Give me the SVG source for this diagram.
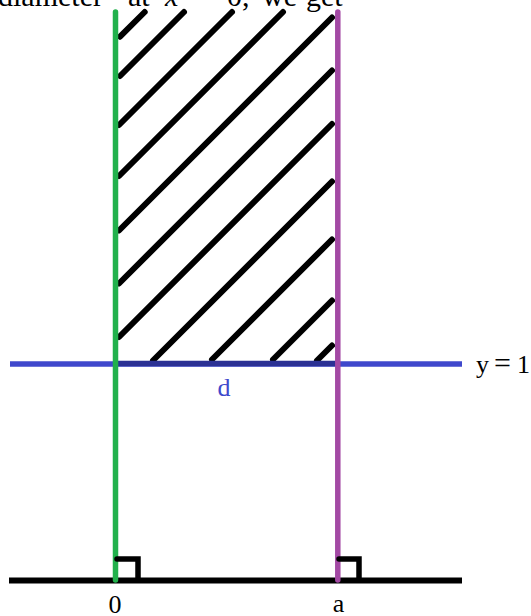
<svg xmlns="http://www.w3.org/2000/svg" width="531" height="616" viewBox="0 0 531 616">
<style>
.hatch{stroke:#000;stroke-width:6;stroke-linecap:round;fill:none}
.lbl{font-family:"Liberation Serif","Times New Roman",serif;font-size:26px}
.top{font-family:"Liberation Serif","Times New Roman",serif;font-size:30px;fill:#000}
.mark{stroke:#000;stroke-width:5.5;fill:none;stroke-linecap:round;stroke-linejoin:miter}
</style>
<rect width="531" height="616" fill="#fff"/>
<text class="top" y="5.5"><tspan x="-2">diameter</tspan><tspan x="128">at</tspan><tspan x="165" font-style="italic">x</tspan><tspan x="188">=</tspan><tspan x="227">0,</tspan><tspan x="262">we</tspan><tspan x="306">get</tspan></text>
<g id="hatching">
<line class="hatch" x1="120" y1="36.7" x2="144.7" y2="12"/>
<line class="hatch" x1="120" y1="76" x2="184" y2="12"/>
<line class="hatch" x1="119" y1="125" x2="232" y2="12"/>
<line class="hatch" x1="119" y1="176" x2="283" y2="12"/>
<line class="hatch" x1="119" y1="230.5" x2="332" y2="17.5"/>
<line class="hatch" x1="119" y1="283.5" x2="332" y2="70.5"/>
<line class="hatch" x1="119" y1="337" x2="332" y2="124"/>
<line class="hatch" x1="153" y1="360.5" x2="332" y2="181.5"/>
<line class="hatch" x1="212" y1="359.5" x2="332" y2="239.5"/>
<line class="hatch" x1="273" y1="359.5" x2="332" y2="300.5"/>
<line class="hatch" x1="317" y1="360.5" x2="332" y2="345.5"/>
</g>
<g id="connectors">
<line id="y1line" x1="10" y1="364" x2="462" y2="364" stroke="#3f48cc" stroke-width="5.5"/>
<line x1="116" y1="363.5" x2="338" y2="363.5" stroke="#2b3194" stroke-width="5.5"/>
<line id="axis" x1="9" y1="580.5" x2="462" y2="580.5" stroke="#000" stroke-width="6"/>
<line id="green" x1="115.5" y1="12" x2="115.5" y2="580" stroke="#22b14c" stroke-width="5.5" stroke-linecap="round"/>
<line id="purple" x1="337.8" y1="12" x2="337.8" y2="580" stroke="#a349a4" stroke-width="5.5" stroke-linecap="round"/>
<polyline class="mark" points="117,559 138,559 138,580"/>
<polyline class="mark" points="339,559 359,559 359,580"/>
</g>
<g id="labels">
<text class="lbl" x="115" y="613" text-anchor="middle" fill="#000">0</text>
<text class="lbl" x="338.5" y="612" text-anchor="middle" fill="#000">a</text>
<text class="lbl" x="224" y="396" text-anchor="middle" fill="#3f48cc" font-size="27">d</text>
<text class="lbl" y="372.5" fill="#000"><tspan x="476">y</tspan><tspan x="494" font-size="30">=</tspan><tspan x="517">1</tspan></text>
</g>
</svg>
